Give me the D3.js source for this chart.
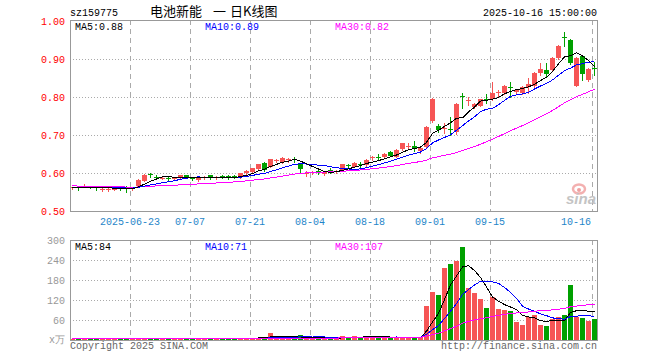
<!DOCTYPE html>
<html>
<head>
<meta charset="utf-8">
<script src="https://d3js.org/d3.v7.min.js"></script>
<style>
  body { margin: 0; background: #fff; }
  svg text { font-family: "Liberation Mono", "DejaVu Sans Mono", monospace; font-size: 10px; }
</style>
</head>
<body>
<div id="chart"></div>
<script>
var dates = [
    '06-09', '06-10', '06-11', '06-12', '06-13', '06-16', '06-17', '06-18', '06-19', '06-20',
    '06-23', '06-24', '06-25', '06-26', '06-27', '06-30',
    '07-01', '07-02', '07-03', '07-04', '07-07', '07-08', '07-09', '07-10', '07-11', '07-14',
    '07-15', '07-16', '07-17', '07-18', '07-21', '07-22', '07-23', '07-24', '07-25', '07-28',
    '07-29', '07-30', '07-31',
    '08-01', '08-04', '08-05', '08-06', '08-07', '08-08', '08-11', '08-12', '08-13', '08-14',
    '08-15', '08-18', '08-19', '08-20', '08-21', '08-22', '08-25', '08-26', '08-27', '08-28', '08-29',
    '09-01', '09-02', '09-03', '09-04', '09-05', '09-08', '09-09', '09-10', '09-11', '09-12',
    '09-15', '09-16', '09-17', '09-18', '09-19', '09-22', '09-23', '09-24', '09-25', '09-26',
    '09-29', '09-30',
    '10-09', '10-10', '10-13', '10-14', '10-15', '10-16'
];
var opens = [
    .561, .562, .565, .564, .562, .555, .557, .558, .560, .560,
    .557, .565, .580, .598, .590, .586, .588, .584, .586, .594,
    .588, .582, .589, .595, .588, .593, .593, .593, .590, .599,
    .603, .611, .626, .617, .633, .628, .635, .638, .623, .599,
    .601, .604, .598, .609, .604, .608, .622, .617, .624, .621,
    .640, .641, .643, .656, .643, .663, .669, .671, .658, .669,
    .738, .724, .716, .717, .707, .802, .789, .773, .777, .796,
    .795, .811, .810, .826, .814, .811, .826, .830, .862, .871,
    .870, .903, .957, .950, .830, .909, .845, .877
];
var highs = [
    .564, .563, .572, .566, .563, .560, .561, .561, .565, .566,
    .562, .583, .597, .600, .595, .589, .589, .590, .596, .596,
    .589, .592, .593, .596, .592, .595, .595, .594, .600, .608,
    .614, .625, .628, .638, .638, .641, .640, .642, .625, .605,
    .605, .607, .604, .613, .608, .625, .623, .628, .628, .636,
    .646, .650, .652, .658, .662, .680, .680, .685, .669, .724,
    .797, .729, .731, .747, .784, .811, .801, .783, .796, .808,
    .839, .818, .832, .839, .821, .829, .851, .866, .889, .889,
    .905, .937, .970, .952, .905, .911, .876, .891
];
var lows = [
    .559, .555, .562, .560, .555, .553, .553, .555, .555, .551,
    .555, .563, .578, .590, .584, .583, .580, .582, .584, .586,
    .581, .580, .585, .584, .584, .586, .585, .586, .588, .597,
    .601, .609, .606, .615, .628, .626, .630, .628, .603, .593,
    .598, .598, .596, .600, .601, .606, .612, .615, .617, .619,
    .634, .637, .641, .644, .641, .661, .664, .659, .652, .665,
    .735, .709, .704, .700, .703, .770, .779, .770, .775, .783,
    .792, .801, .807, .801, .808, .807, .810, .827, .858, .853,
    .868, .901, .933, .887, .828, .845, .843, .858
];
var closes = [
    .562, .560, .567, .562, .561, .559, .558, .559, .559, .558,
    .560, .582, .595, .596, .588, .587, .586, .587, .594, .588,
    .585, .590, .590, .586, .589, .588, .587, .589, .599, .606,
    .612, .623, .608, .637, .634, .639, .636, .636, .611, .600,
    .603, .602, .602, .603, .606, .623, .620, .626, .622, .634,
    .642, .639, .650, .646, .660, .678, .671, .667, .665, .722,
    .795, .713, .718, .714, .782, .799, .791, .781, .794, .793,
    .811, .814, .830, .824, .818, .827, .834, .864, .874, .861,
    .903, .935, .955, .889, .902, .860, .874, .875
];
// 万 shares
var volumes = [
    4, 3, 5, 4, 3, 4, 4, 3, 4, 3,
    4, 7, 6, 5, 4, 4, 3, 3, 4, 4,
    3, 4, 3, 4, 3, 4, 3, 4, 7, 7,
    7, 5, 6, 22, 13, 6, 6, 5, 16, 6,
    5, 6, 5, 4, 5, 12, 5, 12, 8, 12,
    12, 7, 7, 7, 8, 5, 8, 7, 10, 102,
    144, 135, 216, 228, 236, 280, 156, 142, 123, 96,
    129, 93, 90, 87, 54, 45, 70, 75, 45, 42,
    63, 68, 75, 165, 68, 66, 58, 63
];
// the 29 sessions before 06-09, so the averages are drawn from the first bar
var prevCloses = [
    .571, .573, .570, .568, .566, .569, .572, .574, .571, .568,
    .567, .565, .566, .569, .570, .568, .566, .564, .565, .563,
    .562, .564, .563, .561, .560, .562, .561, .560, .562
];
var prevVolumes = [
    5, 4, 6, 5, 4, 3, 5, 6, 4, 5,
    4, 3, 4, 5, 4, 6, 5, 4, 3, 4,
    5, 4, 3, 4, 5, 4, 3, 4, 4
];

var priceTicks = [0.5, 0.6, 0.7, 0.8, 0.9, 1.0];
var volumeTicks = [60, 120, 180, 240, 300];
var dateTicks = ['06-23', '07-07', '07-21', '08-04', '08-18', '09-01', '09-15', '10-16'];
var dateTickLabels = ['2025-06-23', '07-07', '07-21', '08-04', '08-18', '09-01', '09-15', '10-16'];
var maPeriods = [5, 10, 30];
var maColors = ['#000', '#00f', '#f0f'];
var maLabelX = [75, 205, 335];

var width = 660, height = 360;
var left = 70, right = 598;
var priceTop = 21, priceBottom = 211, volTop = 240, volBottom = 340;
var upColor = '#f65555', downColor = '#00a000';

var svg = d3.select('#chart').append('svg')
    .attr('width', width)
    .attr('height', height);

var x = d3.scaleBand().domain(dates).range([left, right])
    .paddingInner(1 / 6).align(0).round(true);
var y = d3.scaleLinear().domain([0.5, 1.0]).range([priceBottom, priceTop]);
var yv = d3.scaleLinear().domain([0, 300]).range([volBottom, volTop]);
var cx = function(i) { return x(dates[i]) + 2.5; };

function movingAverage(prev, values, n) {
    var all = prev.concat(values);
    return values.map(function(v, i) {
        var end = prev.length + i + 1;
        return d3.mean(all.slice(end - n, end));
    });
}

// grid
var grid = svg.append('g').attr('stroke', '#aaa').attr('shape-rendering', 'crispEdges');
grid.selectAll('.hp').data(priceTicks.slice(1, -1)).enter().append('line')
    .attr('x1', left).attr('x2', right)
    .attr('y1', function(d) { return Math.round(y(d)) + 0.5; })
    .attr('y2', function(d) { return Math.round(y(d)) + 0.5; })
    .attr('stroke-dasharray', '1,2');
grid.selectAll('.hv').data(volumeTicks.slice(0, -1)).enter().append('line')
    .attr('x1', left).attr('x2', right)
    .attr('y1', function(d) { return yv(d) + 0.5; })
    .attr('y2', function(d) { return yv(d) + 0.5; })
    .attr('stroke-dasharray', '1,2');
[[priceTop - 1, priceBottom], [volTop, volBottom]].forEach(function(span) {
    grid.selectAll(null).data(dateTicks).enter().append('line')
        .attr('x1', function(d) { return x(d) + 0.5; })
        .attr('x2', function(d) { return x(d) + 0.5; })
        .attr('y1', span[0]).attr('y2', span[1])
        .attr('stroke-dasharray', '5,4');
});

// watermark
var mark = svg.append('g').attr('transform', 'translate(566,184)');
mark.append('ellipse').attr('cx', 13).attr('cy', 5).attr('rx', 6).attr('ry', 4.5)
    .attr('fill', 'none').attr('stroke', '#f3b0b0').attr('stroke-width', 2.5);
mark.append('circle').attr('cx', 13).attr('cy', 6).attr('r', 2).attr('fill', '#f0a0a0');
mark.append('text').attr('x', 0).attr('y', 20)
    .style('font-family', '"Liberation Sans", Arial, sans-serif')
    .style('font-size', '15px').style('font-weight', 'bold').style('font-style', 'italic')
    .attr('fill', '#c4c4c4').text('sina');

// candles
var candles = svg.append('g').attr('shape-rendering', 'crispEdges');
candles.selectAll('g').data(dates).enter().append('g').each(function(d, i) {
    var g = d3.select(this);
    var color = closes[i] >= opens[i] ? upColor : downColor;
    var top = Math.round(y(Math.max(opens[i], closes[i])));
    var bot = Math.round(y(Math.min(opens[i], closes[i])));
    g.append('line')
        .attr('x1', cx(i)).attr('x2', cx(i))
        .attr('y1', Math.round(y(highs[i]))).attr('y2', Math.round(y(lows[i])) + 1)
        .attr('stroke', color);
    g.append('rect')
        .attr('x', x(d)).attr('width', x.bandwidth())
        .attr('y', top).attr('height', Math.max(1, bot - top))
        .attr('fill', color);
});

// volume bars
svg.append('g').attr('shape-rendering', 'crispEdges')
    .selectAll('rect').data(volumes).enter().append('rect')
    .attr('x', function(d, i) { return x(dates[i]); })
    .attr('width', x.bandwidth())
    .attr('y', function(d) { return Math.round(yv(d)); })
    .attr('height', function(d) { return volBottom - Math.round(yv(d)); })
    .attr('fill', function(d, i) { return closes[i] >= opens[i] ? upColor : downColor; });

// moving averages
var priceLine = d3.line().x(function(d, i) { return cx(i); }).y(function(d) { return y(d); });
var volLine = d3.line().x(function(d, i) { return cx(i); }).y(function(d) { return yv(d); });
var priceMA = maPeriods.map(function(n) { return movingAverage(prevCloses, closes, n); });
var volMA = maPeriods.map(function(n) { return movingAverage(prevVolumes, volumes, n); });

var lines = svg.append('g').attr('fill', 'none').attr('shape-rendering', 'crispEdges');
maPeriods.forEach(function(n, k) {
    lines.append('path').attr('d', volLine(volMA[k])).attr('stroke', maColors[k]);
});
[2, 1, 0].forEach(function(k) {
    lines.append('path').attr('d', priceLine(priceMA[k])).attr('stroke', maColors[k]);
});

// frames
svg.append('g').attr('fill', 'none').attr('stroke', '#999').attr('shape-rendering', 'crispEdges')
    .selectAll('rect').data([[priceTop - 1, priceBottom], [volTop, volBottom]]).enter().append('rect')
    .attr('x', left + 0.5).attr('width', right - left - 1)
    .attr('y', function(d) { return d[0] + 0.5; })
    .attr('height', function(d) { return d[1] - d[0]; });

// axes
var priceAxis = svg.append('g').attr('transform', 'translate(' + left + ',0)')
    .call(d3.axisLeft(y).tickValues(priceTicks).tickFormat(d3.format('.2f')).tickSize(0).tickPadding(5));
priceAxis.select('.domain').remove();
priceAxis.selectAll('text').attr('fill', '#f00').style('font-size', '10px').style('font-family', null);

var volAxis = svg.append('g').attr('transform', 'translate(' + left + ',0)')
    .call(d3.axisLeft(yv).tickValues(volumeTicks).tickSize(0).tickPadding(5));
volAxis.select('.domain').remove();
volAxis.selectAll('text').attr('fill', '#999').style('font-size', '10px').style('font-family', null);

var dateAxis = svg.append('g').attr('transform', 'translate(' + (-x.bandwidth() / 2) + ',' + priceBottom + ')')
    .call(d3.axisBottom(x).tickValues(dateTicks)
        .tickFormat(function(d, i) { return dateTickLabels[i]; })
        .tickSize(0).tickPadding(7));
dateAxis.select('.domain').remove();
dateAxis.selectAll('text').attr('fill', '#1f86c9').style('font-size', '10px').style('font-family', null);
// last label is pulled inside the frame
dateAxis.selectAll('.tick:last-of-type text').attr('text-anchor', 'end').attr('x', -1);

svg.append('text').attr('x', 65).attr('y', 343).attr('text-anchor', 'end')
    .attr('fill', '#999').text('x万');

// header
svg.append('text').attr('x', 70).attr('y', 16).attr('fill', '#000').text('sz159775');
var title = svg.append('text').attr('y', 16).attr('fill', '#000')
    .style('font-family', '"Noto Sans CJK SC", sans-serif').style('font-size', '13px');
title.append('tspan').attr('x', 150).text('电池新能');
title.append('tspan').attr('x', 213).text('一');
title.append('tspan').attr('x', 230).text('日K线图');
svg.append('text').attr('x', 597).attr('y', 16).attr('text-anchor', 'end')
    .attr('fill', '#000').text('2025-10-16 15:00:00');

// moving average legends
maPeriods.forEach(function(n, k) {
    var lastP = priceMA[k][closes.length - 1];
    var lastV = volMA[k][volumes.length - 1];
    svg.append('text').attr('x', maLabelX[k]).attr('y', 30).attr('fill', maColors[k])
        .text('MA' + n + ':' + lastP.toFixed(2));
    svg.append('text').attr('x', maLabelX[k]).attr('y', 250).attr('fill', maColors[k])
        .text('MA' + n + ':' + Math.round(lastV));
});

// footer
svg.append('text').attr('x', 70).attr('y', 349).attr('fill', '#666').text('Copyright 2025 SINA.COM');
svg.append('text').attr('x', 597).attr('y', 349).attr('text-anchor', 'end')
    .attr('fill', '#666').text('http://finance.sina.com.cn');
</script>
</body>
</html>
